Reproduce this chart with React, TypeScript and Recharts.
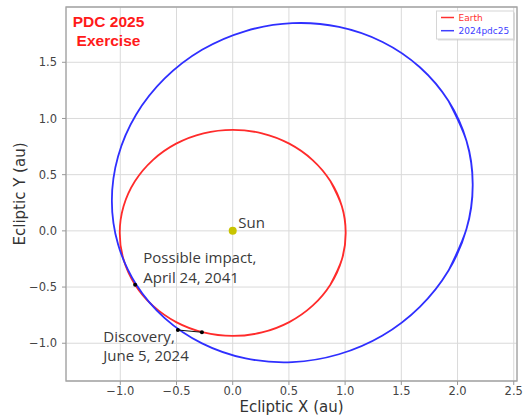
import React from 'react';
import {
  ComposedChart,
  Line,
  Scatter,
  XAxis,
  YAxis,
  CartesianGrid,
  ReferenceArea,
} from 'recharts';

// Earth orbit (au); the loop overlaps itself a little so the curve closes smoothly
const earthX = [0.87, 0.971, 1.005, 0.971, 0.87, 0.711, 0.503, 0.26, 0, -0.26, -0.503, -0.711, -0.87, -0.971, -1.005, -0.971, -0.87, -0.711, -0.503, -0.26, 0, 0.26, 0.503, 0.711, 0.87, 0.971, 1.005, 0.971, 0.87];
const earthY = [-0.477, -0.255, -0.018, 0.219, 0.441, 0.63, 0.776, 0.868, 0.899, 0.868, 0.776, 0.63, 0.441, 0.219, -0.018, -0.255, -0.477, -0.666, -0.812, -0.904, -0.935, -0.904, -0.812, -0.666, -0.477, -0.255, -0.018, 0.219, 0.441];

// 2024pdc25 orbit (au)
const asteroidX = [1.92, 2.08, 2.135, 2.08, 1.92, 1.665, 1.333, 0.945, 0.53, 0.115, -0.273, -0.605, -0.86, -1.02, -1.075, -1.02, -0.86, -0.605, -0.273, 0.115, 0.53, 0.945, 1.333, 1.665, 1.92, 2.08, 2.135, 2.08, 1.92];
const asteroidY = [-0.353, 0.018, 0.411, 0.799, 1.155, 1.456, 1.681, 1.815, 1.848, 1.778, 1.611, 1.356, 1.033, 0.662, 0.269, -0.119, -0.475, -0.776, -1.001, -1.135, -1.168, -1.098, -0.931, -0.676, -0.353, 0.018, 0.411, 0.799, 1.155];

const sunX = [0];
const sunY = [0];
const impactX = [-0.868];
const impactY = [-0.48];
const discoveryX = [-0.488, -0.274];
const discoveryY = [-0.882, -0.902];

const xTicks = [-1.0, -0.5, 0.0, 0.5, 1.0, 1.5, 2.0, 2.5];
const yTicks = [-1.0, -0.5, 0.0, 0.5, 1.0, 1.5];
const xDomain = [-1.483, 2.529];
const yDomain = [-1.336, 1.992];

const toPts = (xs: number[], ys: number[]) => xs.map((x, i) => ({ x, y: ys[i] }));

const earthData = toPts(earthX, earthY);
const asteroidData = toPts(asteroidX, asteroidY);
const sunData = toPts(sunX, sunY);
const impactData = toPts(impactX, impactY);
const discoveryData = toPts(discoveryX, discoveryY);

const fmt = (v: number) => v.toFixed(1).replace('-', '\u2212');

const tickStyle = { fontFamily: 'DejaVu Sans', fontSize: 11.5, fill: '#444' };
const annoFont = { fontFamily: 'Open Sans', fontSize: 15, fill: '#3a3a3a' };

export default function App() {
  return (
    <div style={{ position: 'absolute', left: 0, top: 0, width: 531, height: 420, background: '#fff' }}>
      <ComposedChart width={531} height={420} margin={{ top: 7, right: 14, bottom: 0, left: 0 }}>
        <CartesianGrid stroke="#dadada" strokeWidth={1} />
        <XAxis
          type="number"
          dataKey="x"
          domain={xDomain}
          allowDataOverflow
          ticks={xTicks}
          tickFormatter={fmt}
          height={39}
          tick={tickStyle}
          tickSize={4}
          tickMargin={2}
          tickLine={{ stroke: '#999' }}
          axisLine={false}
        />
        <YAxis
          type="number"
          dataKey="y"
          domain={yDomain}
          allowDataOverflow
          ticks={yTicks}
          tickFormatter={fmt}
          width={66}
          tick={tickStyle}
          tickSize={4}
          tickMargin={5}
          tickLine={{ stroke: '#999' }}
          axisLine={false}
        />
        <ReferenceArea
          x1={xDomain[0]}
          x2={xDomain[1]}
          y1={yDomain[0]}
          y2={yDomain[1]}
          fill="none"
          fillOpacity={0}
          stroke="#a4a4a4"
          strokeWidth={1.3}
          ifOverflow="visible"
        />
        <Line
          data={earthData}
          dataKey="y"
          type="natural"
          stroke="#ff2b2b"
          strokeWidth={1.8}
          dot={false}
          activeDot={false}
          isAnimationActive={false}
        />
        <Line
          data={asteroidData}
          dataKey="y"
          type="natural"
          stroke="#2f2fff"
          strokeWidth={1.8}
          dot={false}
          activeDot={false}
          isAnimationActive={false}
        />
        <Line
          data={discoveryData}
          dataKey="y"
          type="linear"
          stroke="#111"
          strokeWidth={1.2}
          dot={{ r: 2, fill: '#000', stroke: 'none' }}
          activeDot={false}
          isAnimationActive={false}
        />
        <Scatter
          data={impactData}
          dataKey="y"
          isAnimationActive={false}
          shape={(p: any) => <circle cx={p.cx} cy={p.cy} r={2} fill="#000" />}
        />
        <Scatter
          data={sunData}
          dataKey="y"
          isAnimationActive={false}
          shape={(p: any) => <circle cx={p.cx} cy={p.cy} r={4} fill="#c8c400" />}
        />
      </ComposedChart>
      <svg
        width={531}
        height={420}
        style={{ position: 'absolute', left: 0, top: 0, pointerEvents: 'none' }}
      >
        <g fontFamily="Liberation Sans, Arial" fontWeight="bold" fontSize={15.5} fill="#ff1a1a" textAnchor="middle">
          <text x={108.5} y={26.7}>PDC 2025</text>
          <text x={108.5} y={45.7}>Exercise</text>
        </g>
        <text x={238.3} y={228.3} {...annoFont}>Sun</text>
        <text x={143.3} y={263.3} {...annoFont}>Possible impact,</text>
        <text x={143.3} y={282.7} {...annoFont}>April 24, 2041</text>
        <text x={103.3} y={341.7} {...annoFont}>Discovery,</text>
        <text x={103.3} y={360.7} {...annoFont}>June 5, 2024</text>
        <text x={291.5} y={412} fontFamily="DejaVu Sans" fontSize={15} fill="#333" textAnchor="middle">
          Ecliptic X (au)
        </text>
        <text
          transform="translate(25,194) rotate(-90)"
          fontFamily="DejaVu Sans"
          fontSize={15}
          fill="#333"
          textAnchor="middle"
        >
          Ecliptic Y (au)
        </text>
        <rect x={438} y={12.5} width={77} height={28} fill="#bbb" opacity={0.5} />
        <rect x={436.5} y={11} width={77} height={28} fill="#fff" stroke="#d6d6d6" strokeWidth={1} />
        <line x1={441} x2={454} y1={17.5} y2={17.5} stroke="#ff3030" strokeWidth={1.5} />
        <text x={458.5} y={20.7} fontFamily="DejaVu Sans" fontSize={9} fill="#ff3030">Earth</text>
        <line x1={441} x2={454} y1={30.7} y2={30.7} stroke="#4040ff" strokeWidth={1.5} />
        <text x={458.5} y={34} fontFamily="DejaVu Sans" fontSize={9} fill="#4040ff">2024pdc25</text>
      </svg>
    </div>
  );
}
